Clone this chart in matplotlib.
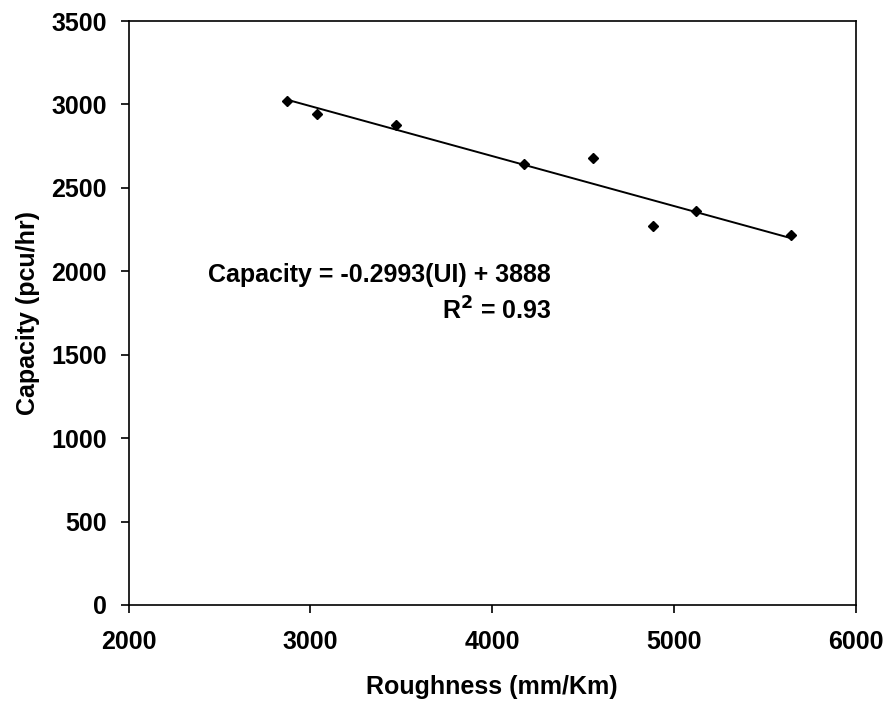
import numpy as np
import matplotlib.pyplot as plt

# data
roughness = [2873, 3038, 3469, 4177, 4557, 4887, 5122, 5643]
capacity = [3022, 2943, 2877, 2645, 2679, 2273, 2363, 2216]
slope = -0.2993
intercept = 3888
r2 = 0.93

plt.rcParams['font.family'] = ['Liberation Sans', 'DejaVu Sans']
plt.rcParams['font.weight'] = 'bold'
fs = 18

fig = plt.figure(figsize=(8.86, 7.02), dpi=100)
ax = fig.add_axes([0.1453, 0.1382, 0.8204, 0.8318])

x = np.array(roughness)
ax.plot(x, capacity, 'D', color='k', markersize=5)
xl = np.array([x.min(), x.max()])
ax.plot(xl, slope*xl + intercept, color='k', lw=1.4)

ax.text(0.109, 0.565, 'Capacity = %.4f(UI) + %d' % (slope, intercept),
        transform=ax.transAxes, fontsize=fs, fontweight='bold', ha='left', va='center')
ax.text(0.506, 0.503, 'R$^{\\mathbf{2}}$ = %.2f' % r2,
        transform=ax.transAxes, fontsize=fs, fontweight='bold', ha='center', va='center')

ax.set_xlim(2000, 6000)
ax.set_ylim(0, 3500)
ax.set_xticks(np.arange(2000, 6001, 1000))
ax.set_yticks(np.arange(0, 3501, 500))
ax.tick_params(direction='out', length=6, width=1.2, labelsize=fs)
ax.tick_params(axis='x', pad=12)
ax.tick_params(axis='y', pad=10)
for lab in ax.get_xticklabels() + ax.get_yticklabels():
    lab.set_fontweight('bold')
for s in ax.spines.values():
    s.set_linewidth(1.2)

ax.set_xlabel('Roughness (mm/Km)', fontsize=fs, fontweight='bold', labelpad=15)
ax.set_ylabel('Capacity (pcu/hr)', fontsize=fs, fontweight='bold', labelpad=8)

fig.savefig('out.png', dpi=100)
